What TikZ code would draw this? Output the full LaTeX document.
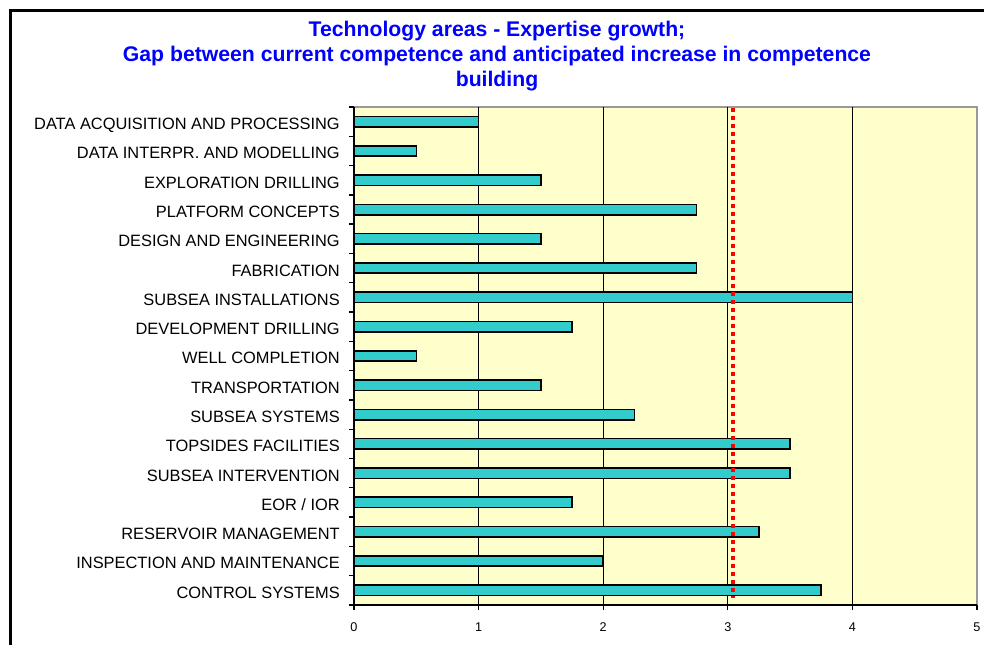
\documentclass[tikz,border=0pt]{standalone}
\usepackage{fontspec}
\setmainfont{Liberation Sans}
\definecolor{titleblue}{HTML}{0000FF}
\definecolor{barfill}{HTML}{33CCCC}
\definecolor{plotbg}{HTML}{FFFFCC}
\definecolor{edgegray}{HTML}{999999}
\begin{document}
\begin{tikzpicture}[x=0.75pt,y=-0.75pt,
  titletext/.style={font=\fontsize{15.9}{18}\selectfont\bfseries,text=titleblue,inner sep=0pt},
  catlabel/.style={font=\fontsize{12.3}{14}\selectfont,anchor=base east,inner sep=0pt},
  ticklabel/.style={font=\fontsize{9.5}{11}\selectfont,inner sep=0pt},
  barbox/.style={draw=black,fill=barfill,line width=1.2pt},
  grid line/.style={black,line width=1pt},
  limit line/.style={red,line width=2.3pt,dash pattern=on 3pt off 3pt}]
\useasboundingbox (0,0) rectangle (984,645);
% outer frame, cut by the page at right and bottom
\draw[line width=2pt] (10.5,645) -- (10.5,10.5) -- (984,10.5);
% title
\node[titletext] (title1) at (497,31) {Technology areas - Expertise growth;};
\node[titletext] (title2) at (497,56) {Gap between current competence and anticipated increase in competence};
\node[titletext] (title3) at (497,81) {building};
% plot area
\fill[plotbg] (354,107) rectangle (977,605);
\draw[edgegray,line width=1.5pt] (354,107) -- (977,107) -- (977,605);
\foreach \k in {1,...,4}
  \draw[grid line] (354+124.6*\k,107) -- (354+124.6*\k,605);
% bars and category labels
\foreach \val/\lab [count=\i from 0] in {1/DATA ACQUISITION AND PROCESSING,
    0.5/DATA INTERPR. AND MODELLING, 1.5/EXPLORATION DRILLING,
    2.75/PLATFORM CONCEPTS, 1.5/DESIGN AND ENGINEERING, 2.75/FABRICATION,
    4/SUBSEA INSTALLATIONS, 1.75/DEVELOPMENT DRILLING, 0.5/WELL COMPLETION,
    1.5/TRANSPORTATION, 2.25/SUBSEA SYSTEMS, 3.5/TOPSIDES FACILITIES,
    3.5/SUBSEA INTERVENTION, 1.75/{EOR / IOR}, 3.25/RESERVOIR MANAGEMENT,
    2/INSPECTION AND MAINTENANCE, 3.75/CONTROL SYSTEMS}{
  \pgfmathsetmacro\yc{107+29.29*(\i+0.5)}
  \draw[barbox] (354,\yc-5.2) rectangle (354+124.6*\val,\yc+5.2);
  \node[catlabel] (cat\i) at (340,\yc+8) {\lab};
}
% red limit at 3.04
\draw[limit line] (733,108) -- (733,598);
% axes
\draw[line width=1.2pt] (354,107) -- (354,605) -- (977,605);
\foreach \k in {0,...,17}
  \draw[line width=1pt] (349,107+29.29*\k) -- (354,107+29.29*\k);
\foreach \k in {0,...,5}{
  \draw[line width=1pt] (354+124.6*\k,605) -- (354+124.6*\k,610);
  \node[ticklabel] (xt\k) at (354+124.6*\k,627) {\k};
}
\end{tikzpicture}
\end{document}
